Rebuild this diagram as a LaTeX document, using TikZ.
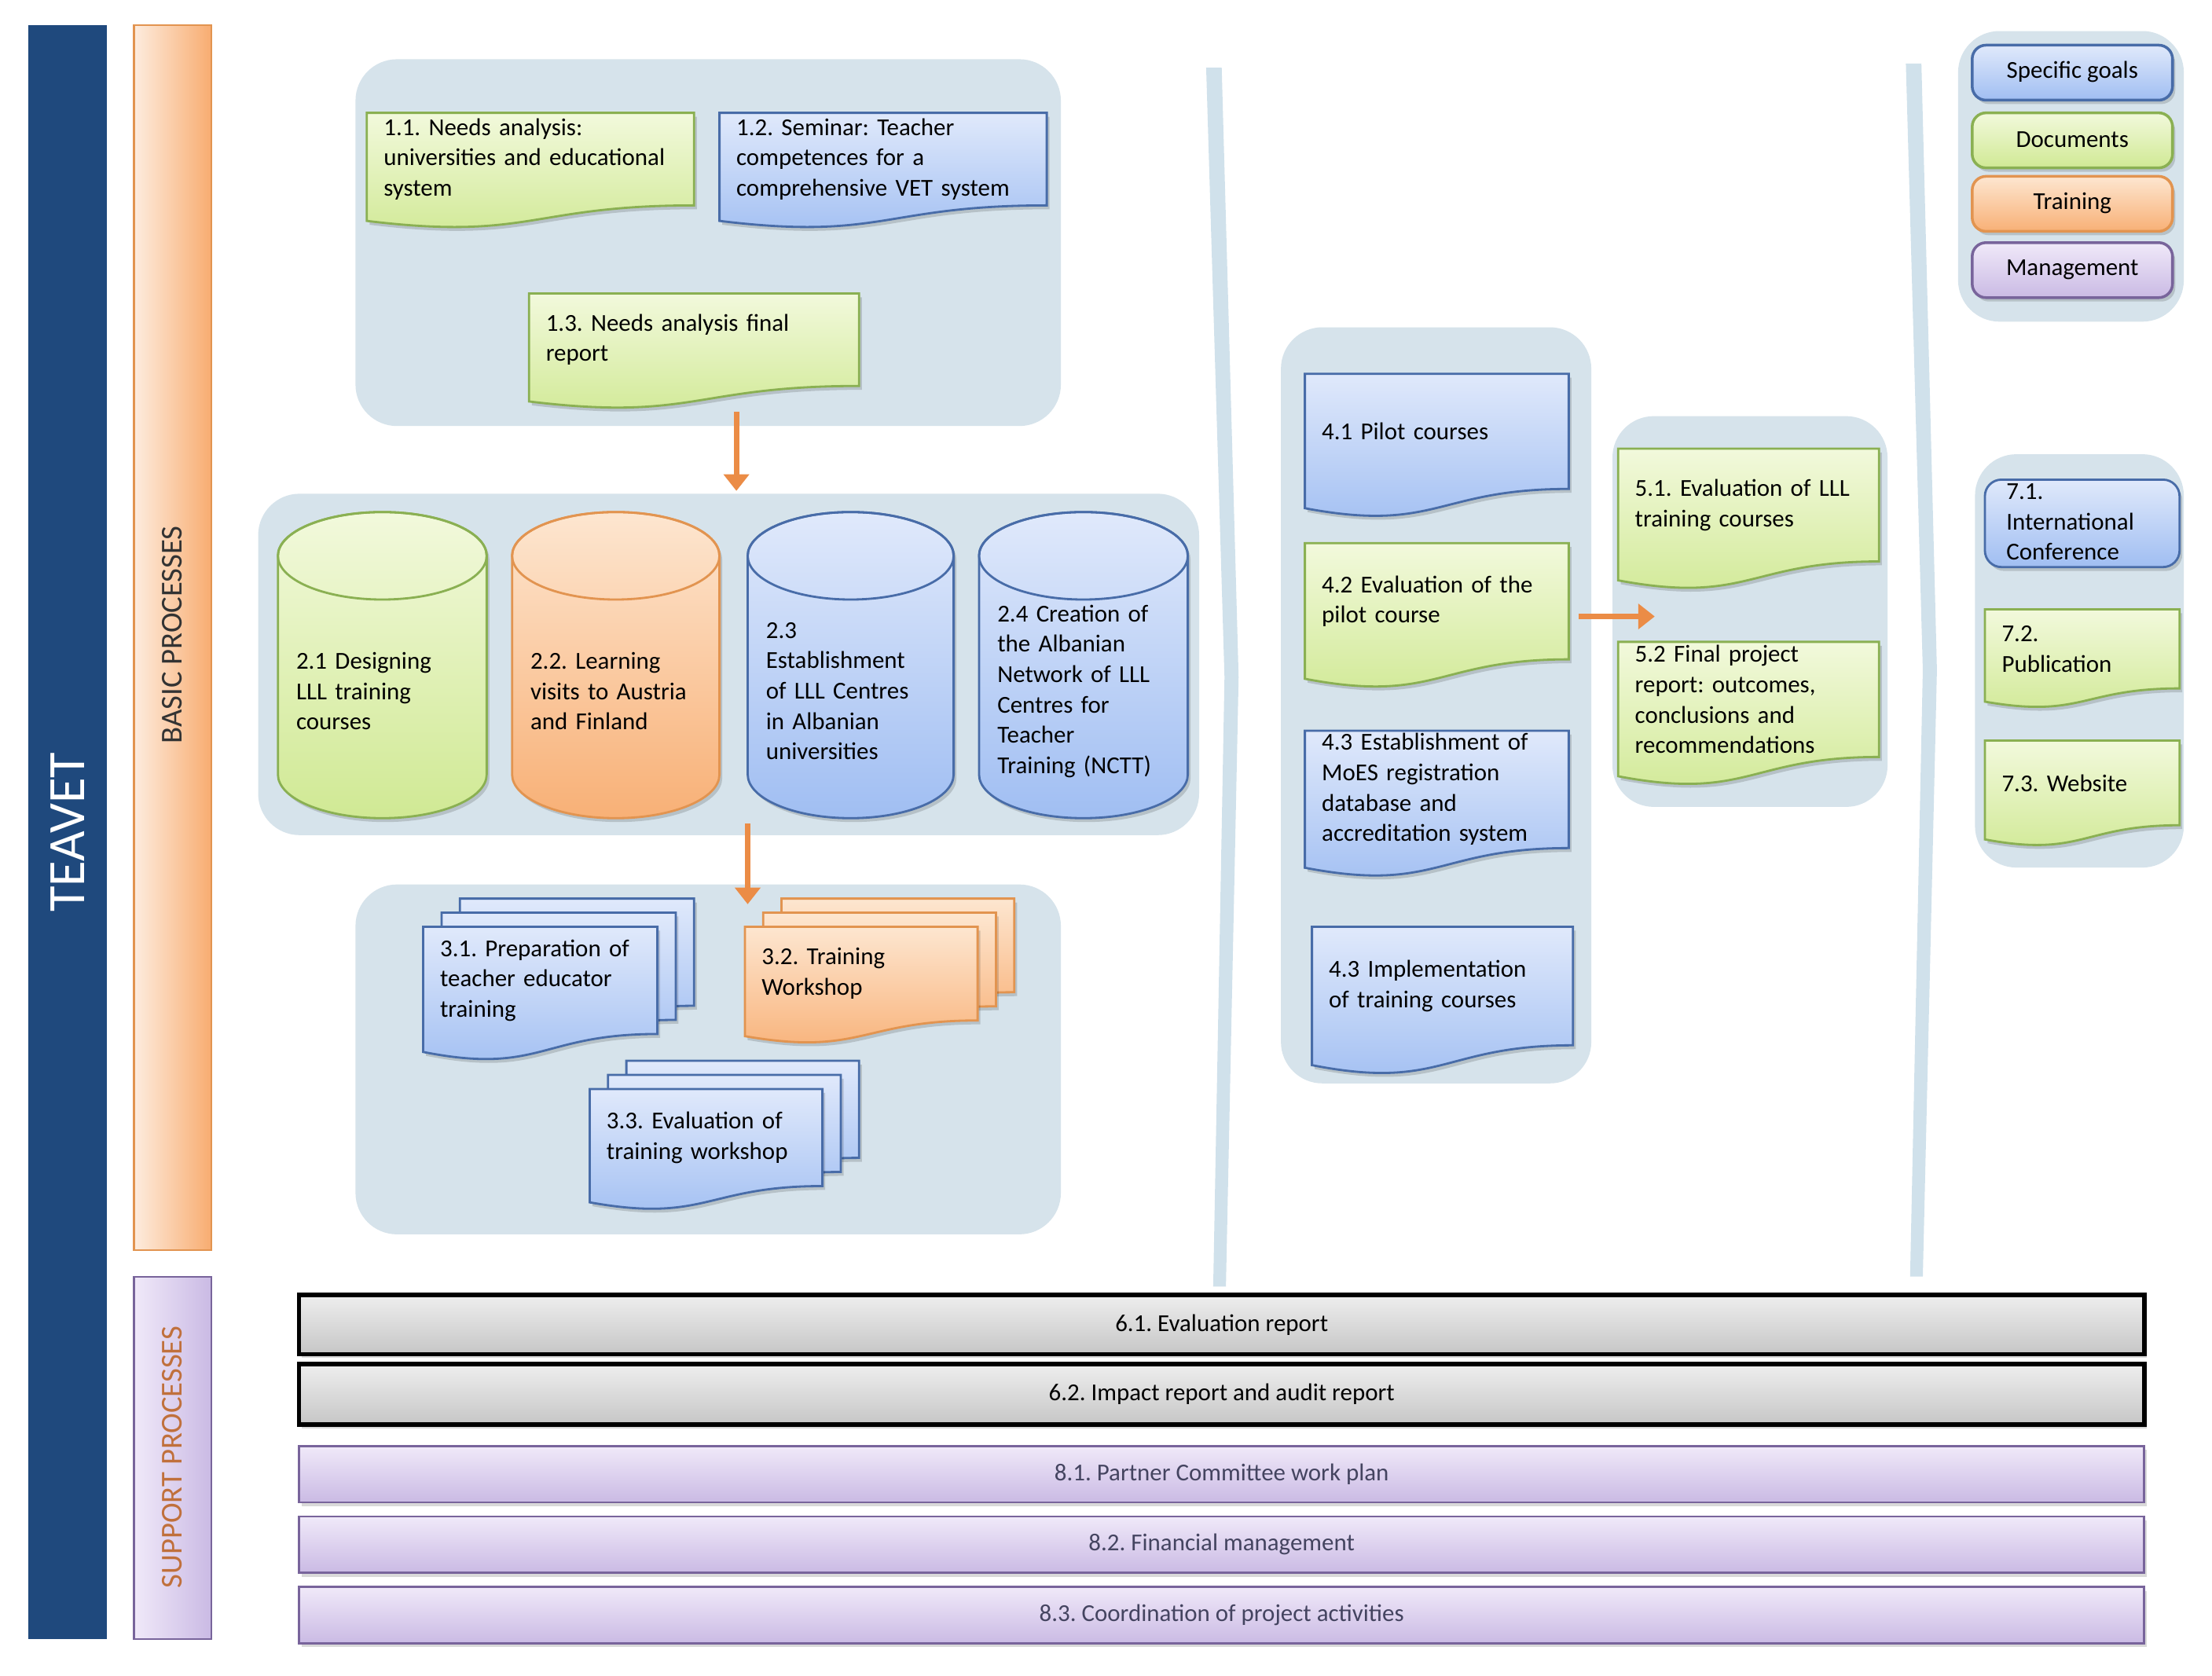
\documentclass[tikz,border=0pt]{standalone}
\usepackage{fontspec}
\setmainfont{Carlito}
\usetikzlibrary{arrows.meta}
\frenchspacing

% colours
\definecolor{navy}{RGB}{31,73,125}
\definecolor{groupbg}{RGB}{214,227,235}
\definecolor{sepblue}{RGB}{208,225,235}
\definecolor{greentop}{RGB}{242,249,220}
\definecolor{greenbot}{RGB}{208,233,148}
\definecolor{greenline}{RGB}{138,176,82}
\definecolor{bluetop}{RGB}{224,233,251}
\definecolor{bluebot}{RGB}{160,190,242}
\definecolor{blueline}{RGB}{72,108,168}
\definecolor{orangetop}{RGB}{253,230,208}
\definecolor{orangebot}{RGB}{248,176,118}
\definecolor{orangeline}{RGB}{226,148,80}
\definecolor{violettop}{RGB}{240,233,249}
\definecolor{violetbot}{RGB}{202,186,228}
\definecolor{violetline}{RGB}{120,100,155}
\definecolor{graytop}{RGB}{238,238,238}
\definecolor{graybot}{RGB}{198,198,198}
\definecolor{grayline}{RGB}{0,0,0}
\definecolor{peachleft}{RGB}{253,236,222}
\definecolor{peachright}{RGB}{248,172,112}
\definecolor{arroworange}{RGB}{235,140,70}
\definecolor{supporttext}{RGB}{192,112,60}
\definecolor{bartext}{RGB}{68,68,96}

\tikzset{
  tone/.style={top color=#1top, bottom color=#1bot, draw=#1line, line width=.8pt},
  softshadow/.style={preaction={fill=black, opacity=.15, transform canvas={xshift=1pt, yshift=-1.4pt}}},
  boxtext/.style={font=\fontsize{8.8}{11}\selectfont, align=left, inner sep=0pt},
  flow/.style={draw=arroworange, line width=2pt, -{Triangle[length=6pt, width=9pt]}},
  groupbox/.style={fill=groupbg, rounded corners=15pt},
}

% document with a wavy bottom edge: name, x1, y1, x2, y2, tone, text
\newcommand{\docbox}[7]{%
  \pgfmathsetmacro{\tw}{(#4-#2-24)*0.01795}%
  \path[tone=#6, softshadow] (#2,#3) -- (#4,#3) -- (#4,{#3+0.8*(#5-#3)})
    .. controls ({(#2+#4)/2},{#3+0.8*(#5-#3)}) and ({(#2+#4)/2},{#3+1.107*(#5-#3)}) .. (#2,{#3+0.934*(#5-#3)}) -- cycle;
  \node[boxtext, text width=\tw cm] (#1) at ({(#2+#4)/2},{#3+0.4*(#5-#3)}) {#7};
}

% three stacked documents, front sheet given
\newcommand{\multidoc}[7]{%
  \pgfmathsetmacro{\tw}{(#4-#2-24)*0.01795}%
  \foreach \sheet in {2,1,0}{%
    \path[tone=#6, softshadow, shift={(13*\sheet,-10*\sheet)}] (#2,#3) -- (#4,#3) -- (#4,{#3+0.8*(#5-#3)})
      .. controls ({(#2+#4)/2},{#3+0.8*(#5-#3)}) and ({(#2+#4)/2},{#3+1.107*(#5-#3)}) .. (#2,{#3+0.934*(#5-#3)}) -- cycle;
  }
  \node[boxtext, text width=\tw cm] (#1) at ({(#2+#4)/2},{#3+0.4*(#5-#3)}) {#7};
}

% cylinder
\newcommand{\cylinder}[7]{%
  \pgfmathsetmacro{\tw}{(#4-#2-26)*0.01795}%
  \pgfmathsetmacro{\rx}{(#4-#2)/2}%
  \pgfmathsetmacro{\cx}{(#2+#4)/2}%
  \path[tone=#6, softshadow] (#2,#3+31) -- (#2,#5-31) arc[start angle=180, end angle=0, x radius=\rx, y radius=31]
    -- (#4,#3+31) arc[start angle=0, end angle=-180, x radius=\rx, y radius=31] -- cycle;
  \draw[#6line, line width=.8pt] (\cx,#3+31) ellipse [x radius=\rx, y radius=31];
  \node[boxtext, text width=\tw cm] (#1) at (\cx,{(#3+37+#5)/2}) {#7};
}

\begin{document}
\begin{tikzpicture}[x=0.01795cm, y=-0.01795cm]
  % Page
  \fill[white] (0,0) rectangle (1568,1188);
  \useasboundingbox (0,0) rectangle (1568,1188);

  % Side bars
  \fill[navy] (20,18) rectangle (76,1162);
  \node[rotate=90, text=white, font=\fontsize{19}{22}\selectfont] (teavet) at (48,590) {TEAVET};
  \path[left color=peachleft, right color=peachright, draw=orangeline, line width=.6pt] (95,18) rectangle (150,886);
  \node[rotate=90, text=black!80, font=\fontsize{11}{13}\selectfont] (basic) at (122,450) {BASIC PROCESSES};
  \path[left color=violettop, right color=violetbot, draw=violetline, line width=.6pt] (95,905) rectangle (150,1162);
  \node[rotate=90, text=supporttext, font=\fontsize{11}{13}\selectfont] (support) at (122,1033) {SUPPORT PROCESSES};

  % Group backgrounds
  \fill[groupbox] (252,42) rectangle (752,302);
  \fill[groupbox] (183,350) rectangle (850,592);
  \fill[groupbox] (252,627) rectangle (752,875);
  \fill[groupbox] (908,232) rectangle (1128,768);
  \fill[groupbox] (1143,295) rectangle (1338,572);
  \fill[groupbox] (1388,22) rectangle (1548,228);
  \fill[groupbox] (1400,322) rectangle (1548,615);

  % Separators
  \fill[sepblue] (855,48) -- (866,48) -- (878,480) -- (869,912) -- (860,912) -- (868,480) -- cycle;
  \fill[sepblue] (1351,45) -- (1362,45) -- (1373,475) -- (1363,905) -- (1354,905) -- (1363,475) -- cycle;

  % Needs analysis
  \docbox{n11}{260}{80}{492}{162}{green}{1.1. Needs analysis:\\universities and educational\\system}
  \docbox{n12}{510}{80}{742}{162}{blue}{1.2. Seminar: Teacher\\competences for a\\comprehensive VET system}
  \docbox{n13}{375}{208}{609}{290}{green}{1.3. Needs analysis final\\report}

  % LLL centres
  \cylinder{n21}{197}{363}{345}{580}{green}{2.1 Designing\\LLL training\\courses}
  \cylinder{n22}{363}{363}{510}{580}{orange}{2.2. Learning\\visits to Austria\\and Finland}
  \cylinder{n23}{530}{363}{676}{580}{blue}{2.3\\Establishment\\of LLL Centres\\in Albanian\\universities}
  \cylinder{n24}{694}{363}{842}{580}{blue}{2.4 Creation of\\the Albanian\\Network of LLL\\Centres for\\Teacher\\Training (NCTT)}

  % Teacher educator training
  \multidoc{n31}{300}{657}{466}{752}{blue}{3.1. Preparation of\\teacher educator\\training}
  \multidoc{n32}{528}{657}{693}{740}{orange}{3.2. Training\\Workshop}
  \multidoc{n33}{418}{772}{583}{858}{blue}{3.3. Evaluation of\\training workshop}

  % Pilot courses
  \docbox{n41}{925}{265}{1112}{367}{blue}{4.1 Pilot courses}
  \docbox{n42}{925}{385}{1112}{488}{green}{4.2 Evaluation of the\\pilot course}
  \docbox{n43}{925}{518}{1112}{622}{blue}{4.3 Establishment of\\MoES registration\\database and\\accreditation system}
  \docbox{n44}{930}{657}{1115}{762}{blue}{4.3 Implementation\\of training courses}

  % Evaluation
  \docbox{n51}{1147}{318}{1332}{418}{green}{5.1. Evaluation of LLL\\training courses}
  \docbox{n52}{1147}{455}{1332}{557}{green}{5.2 Final project\\report: outcomes,\\conclusions and\\recommendations}

  % Legend
  \foreach \y/\col/\lbl [count=\i] in {32/blue/Specific goals, 80/green/Documents, 125/orange/Training, 172/violet/Management}{
    \path[tone=\col, softshadow, line width=1pt, rounded corners=5pt] (1398,\y) rectangle (1540,\y+39);
    \node[boxtext] (legend\i) at (1469,\y+19) {\lbl};
  }

  % Dissemination
  \path[tone=blue, softshadow, rounded corners=6pt] (1407,340) rectangle (1545,402);
  \node[boxtext, text width=2.0cm] (n71) at (1478,370) {7.1.\\International\\Conference};
  \docbox{n72}{1407}{432}{1545}{502}{green}{7.2.\\Publication}
  \docbox{n73}{1407}{525}{1545}{600}{green}{7.3. Website}

  % Arrows
  \coordinate (a1s) at (522,292);
  \coordinate (a1e) at (522,348);
  \coordinate (a2s) at (530,584);
  \coordinate (a2e) at (530,641);
  \coordinate (a3s) at (1119,437);
  \coordinate (a3e) at (1173,437);
  \draw[flow] (a1s) -- (a1e);
  \draw[flow] (a2s) -- (a2e);
  \draw[flow] (a3s) -- (a3e);

  % Support processes
  \foreach \ya/\yb/\lbl [count=\i] in {918/960/6.1. Evaluation report, 967/1010/6.2. Impact report and audit report}{
    \path[tone=gray, softshadow, line width=1.6pt] (212,\ya) rectangle (1520,\yb);
    \node[boxtext] (report\i) at (866,{(\ya+\yb)/2}) {\lbl};
  }
  \foreach \ya/\yb/\lbl [count=\i] in {1025/1065/8.1. Partner Committee work plan, 1075/1115/8.2. Financial management, 1125/1165/8.3. Coordination of project activities}{
    \path[tone=violet, softshadow] (212,\ya) rectangle (1520,\yb);
    \node[boxtext, text=bartext] (manage\i) at (866,{(\ya+\yb)/2}) {\lbl};
  }
\end{tikzpicture}
\end{document}
